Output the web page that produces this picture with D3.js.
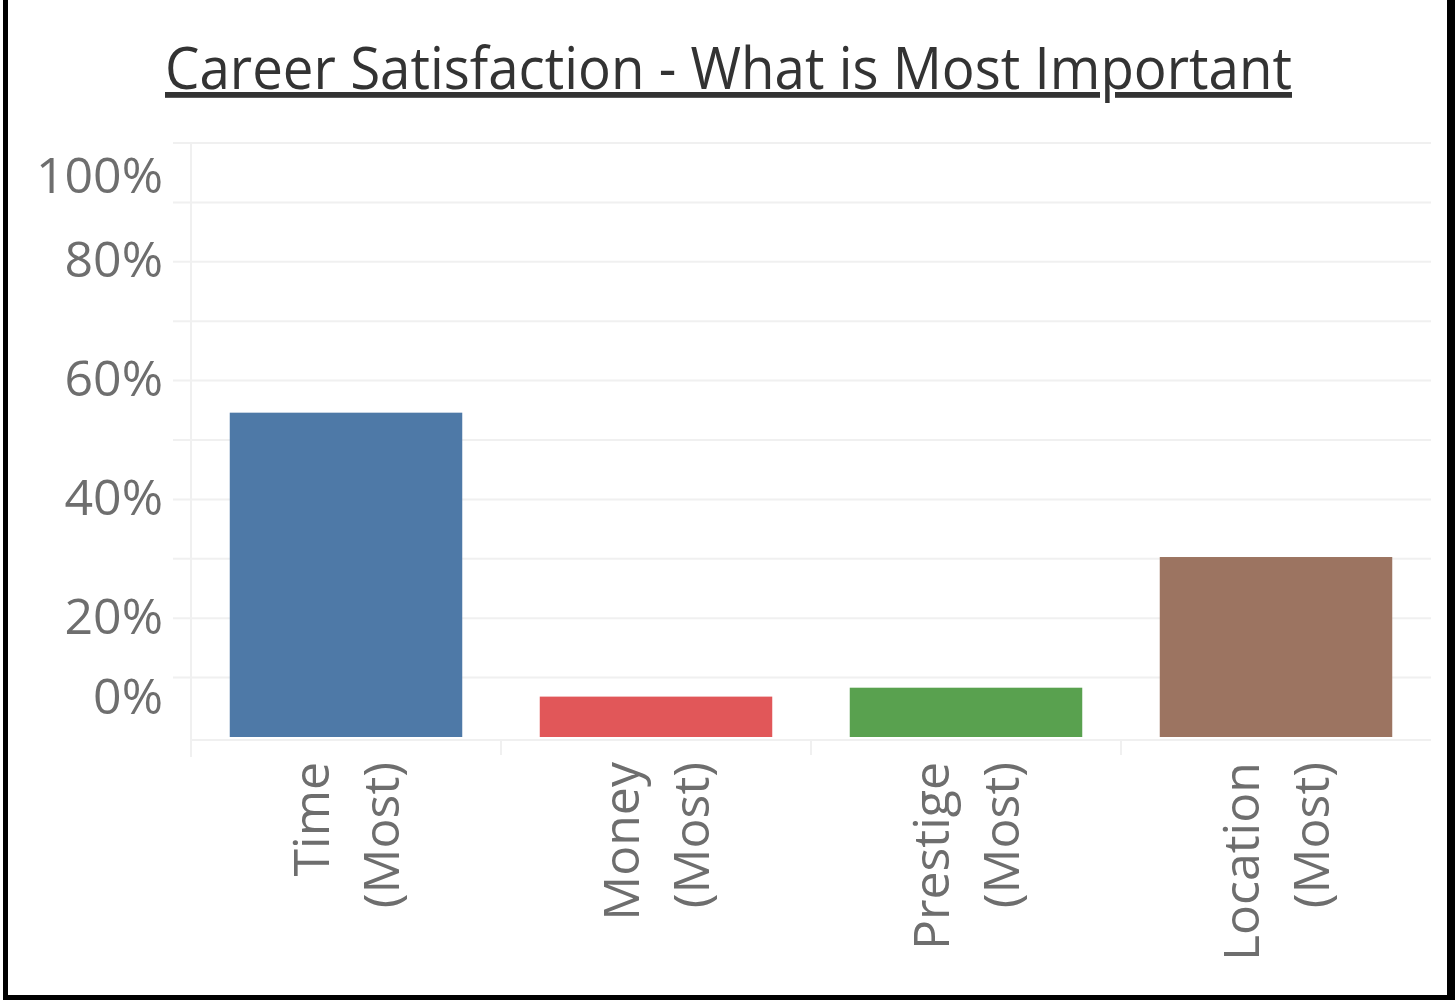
<!DOCTYPE html>
<html>
<head>
<meta charset="utf-8">
<script src="https://cdn.jsdelivr.net/npm/d3@7"></script>
<style>
  html, body { margin: 0; padding: 0; background: #fff; }
  svg { display: block; }
</style>
</head>
<body>
<div id="chart-container"></div>
<script>
// data
const categories = ["Time (Most)", "Money (Most)", "Prestige (Most)", "Location (Most)"];
const shares = [54.6, 6.8, 8.3, 30.3];
const barColors = ["#4e79a7", "#e15759", "#59a14f", "#9c7461"];
const yTicks = [0, 20, 40, 60, 80, 100];
const gridValues = [10, 20, 30, 40, 50, 60, 70, 80, 90, 100];
const title = "Career Satisfaction - What is Most Important";

const width = 1455;
const height = 1000;
const margin = { top: 143, right: 24, bottom: 263, left: 191 };

const svg = d3.select("#chart-container")
    .append("svg")
    .attr("width", width)
    .attr("height", height);

// frame
svg.append("rect").attr("x", 0).attr("y", 0).attr("width", width).attr("height", height).attr("fill", "#fff");
svg.append("rect").attr("x", 3).attr("y", -10).attr("width", 5).attr("height", height + 10).attr("fill", "#000");
svg.append("rect").attr("x", 1447).attr("y", -10).attr("width", 8).attr("height", height + 10).attr("fill", "#000");
svg.append("rect").attr("x", 3).attr("y", 995).attr("width", width).attr("height", 5).attr("fill", "#000");

// title
svg.append("text")
    .attr("x", 165)
    .attr("y", 89)
    .attr("textLength", 1127)
    .attr("lengthAdjust", "spacingAndGlyphs")
    .style("font-family", "'Open Sans', sans-serif")
    .style("font-size", "58px")
    .style("fill", "#333")
    .style("text-decoration", "underline")
    .text(title);

const x = d3.scaleBand()
    .domain(categories)
    .range([margin.left, width - margin.right])
    .paddingInner(0.25)
    .paddingOuter(0.125);

const y = d3.scaleLinear()
    .domain([0, 100])
    .range([height - margin.bottom, margin.top]);

const plotLeft = margin.left;
const plotRight = width - margin.right;

// horizontal gridlines
svg.append("g")
    .selectAll("line")
    .data(gridValues)
    .join("line")
    .attr("x1", plotLeft - 18)
    .attr("x2", plotRight)
    .attr("y1", d => y(d))
    .attr("y2", d => y(d))
    .attr("stroke", "#f0f0f0")
    .attr("stroke-width", 2);

// left vertical line
svg.append("line")
    .attr("x1", plotLeft).attr("x2", plotLeft)
    .attr("y1", y(100)).attr("y2", y(0) + 20)
    .attr("stroke", "#f0f0f0").attr("stroke-width", 2);

// bottom axis line
svg.append("line")
    .attr("x1", plotLeft).attr("x2", plotRight)
    .attr("y1", y(0) + 3).attr("y2", y(0) + 3)
    .attr("stroke", "#f0f0f0").attr("stroke-width", 2);

// category separators below axis
svg.append("g")
    .selectAll("line")
    .data(categories.slice(1))
    .join("line")
    .attr("x1", d => x(d) - x.step() * x.paddingInner() / 2)
    .attr("x2", d => x(d) - x.step() * x.paddingInner() / 2)
    .attr("y1", y(0) + 3)
    .attr("y2", y(0) + 18)
    .attr("stroke", "#f0f0f0").attr("stroke-width", 2);

// bars
svg.append("g")
    .selectAll("rect")
    .data(categories)
    .join("rect")
    .attr("x", d => x(d))
    .attr("y", (d, i) => y(shares[i]))
    .attr("width", x.bandwidth())
    .attr("height", (d, i) => y(0) - y(shares[i]))
    .attr("fill", (d, i) => barColors[i]);

// y tick labels, kept inside the pane like Tableau does
const labelTop = y(100) + 34;
const labelBottom = y(0) - 39;
svg.append("g")
    .selectAll("text")
    .data(yTicks)
    .join("text")
    .attr("x", 163)
    .attr("y", d => Math.max(labelTop, Math.min(labelBottom, y(d))) - 2)
    .attr("dy", "0.35em")
    .attr("text-anchor", "end")
    .style("font-family", "'Open Sans', sans-serif")
    .style("font-size", "50px")
    .style("fill", "#6e6e6e")
    .text(d => d + "%");

// x labels, rotated, two lines each
const xLabels = svg.append("g")
    .selectAll("text")
    .data(categories)
    .join("text")
    .attr("transform", d => `translate(${x(d) + x.bandwidth() / 2}, ${y(0) + 25}) rotate(-90)`)
    .attr("text-anchor", "end")
    .style("font-family", "'Open Sans', sans-serif")
    .style("font-size", "50px")
    .style("fill", "#6e6e6e");

xLabels.each(function(d) {
  const parts = d.split(" ");
  const t = d3.select(this);
  t.append("tspan").attr("x", 0).attr("y", -17).text(parts[0]);
  t.append("tspan").attr("x", 0).attr("y", 53).text(parts[1]);
});
</script>
</body>
</html>
